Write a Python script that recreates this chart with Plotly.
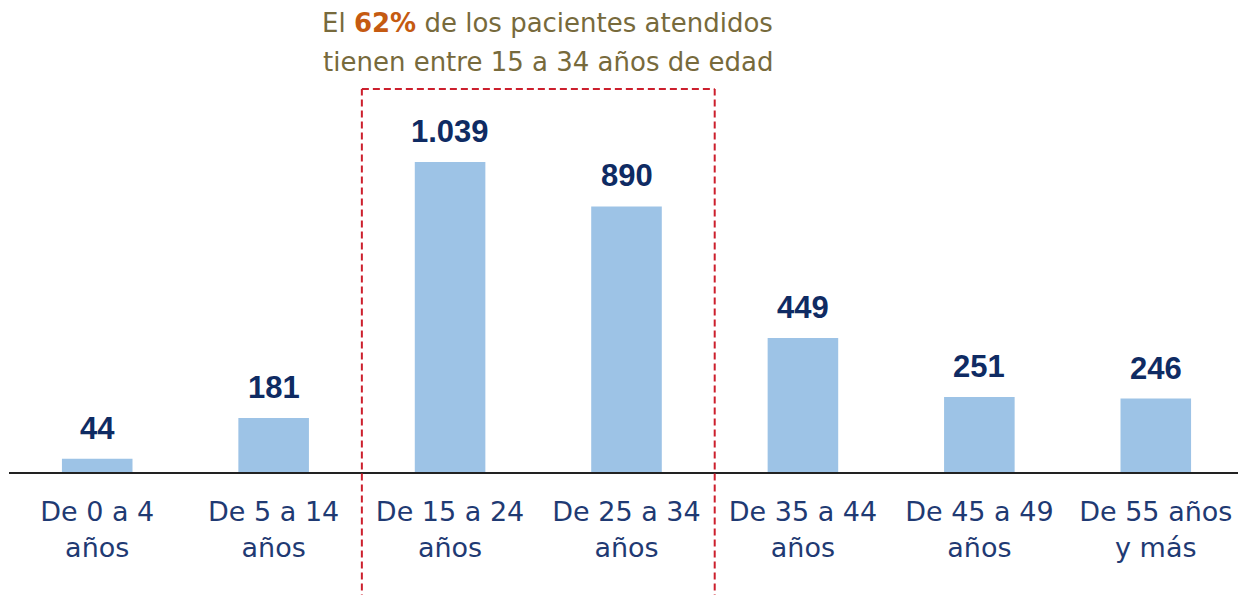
import plotly.graph_objects as go

categories = ["De 0 a 4<br>años", "De 5 a 14<br>años", "De 15 a 24<br>años", "De 25 a 34<br>años",
              "De 35 a 44<br>años", "De 45 a 49<br>años", "De 55 años<br>y más"]
values = [44, 181, 1039, 890, 449, 251, 246]
value_labels = ["44", "181", "1.039", "890", "449", "251", "246"]
title_lines = ["El <b><span style='color:#c55a11'>62%</span></b> de los pacientes atendidos",
               "tienen entre 15 a 34 años de edad"]

x_idx = list(range(len(categories)))

BAR = "#9dc3e6"
NAVY_VAL = "#0f2b63"
NAVY_TICK = "#1f3a73"
RED = "#cc1f2d"
FONT = "DejaVu Sans"

fig = go.Figure()
fig.add_trace(go.Bar(
    x=x_idx, y=values, width=0.40,
    marker=dict(color=BAR, line=dict(width=0)),
    hoverinfo="skip",
))

for xi, v, lab in zip(x_idx, values, value_labels):
    fig.add_annotation(x=xi, y=v, xref="x", yref="y", text=lab, showarrow=False,
                       yanchor="bottom", yshift=11,
                       font=dict(family="Liberation Sans", size=31, color=NAVY_VAL, weight="bold"))

# dashed highlight box around 15-34 groups (top + sides)
fig.add_shape(type="line", xref="x", yref="y", x0=1.5, x1=3.5, y0=1283.5, y1=1283.5,
              line=dict(color=RED, width=2, dash="7px,4px"))
for xv in (1.5, 3.5):
    fig.add_shape(type="line", xref="x", yref="paper", x0=xv, x1=xv, y0=-0.35, y1=1 - 81 / 464,
                  line=dict(color=RED, width=2, dash="7px,4px"))

for line, yp in zip(title_lines, (1 - 15 / 464, 1 - 54 / 464)):
    fig.add_annotation(x=2.555, xref="x", y=yp, yref="paper", yanchor="middle", showarrow=False,
                       text=line, font=dict(family=FONT, size=26, color="#776a3c"), align="center")

fig.update_layout(
    width=1238, height=587,
    margin=dict(l=1, r=2, t=0, b=123),
    paper_bgcolor="white", plot_bgcolor="white",
    showlegend=False,
    xaxis=dict(range=[-0.5, 6.5], tickmode="array", tickvals=x_idx, ticktext=categories,
               tickfont=dict(family=FONT, size=27, color=NAVY_TICK), showgrid=False,
               showline=True, linecolor="#222222", linewidth=2, ticks="", zeroline=False,
               ticklabelstandoff=15),
    yaxis=dict(range=[0, 464 / 0.2984], visible=False, showgrid=False, zeroline=False),
)

fig.write_html("out.html")
